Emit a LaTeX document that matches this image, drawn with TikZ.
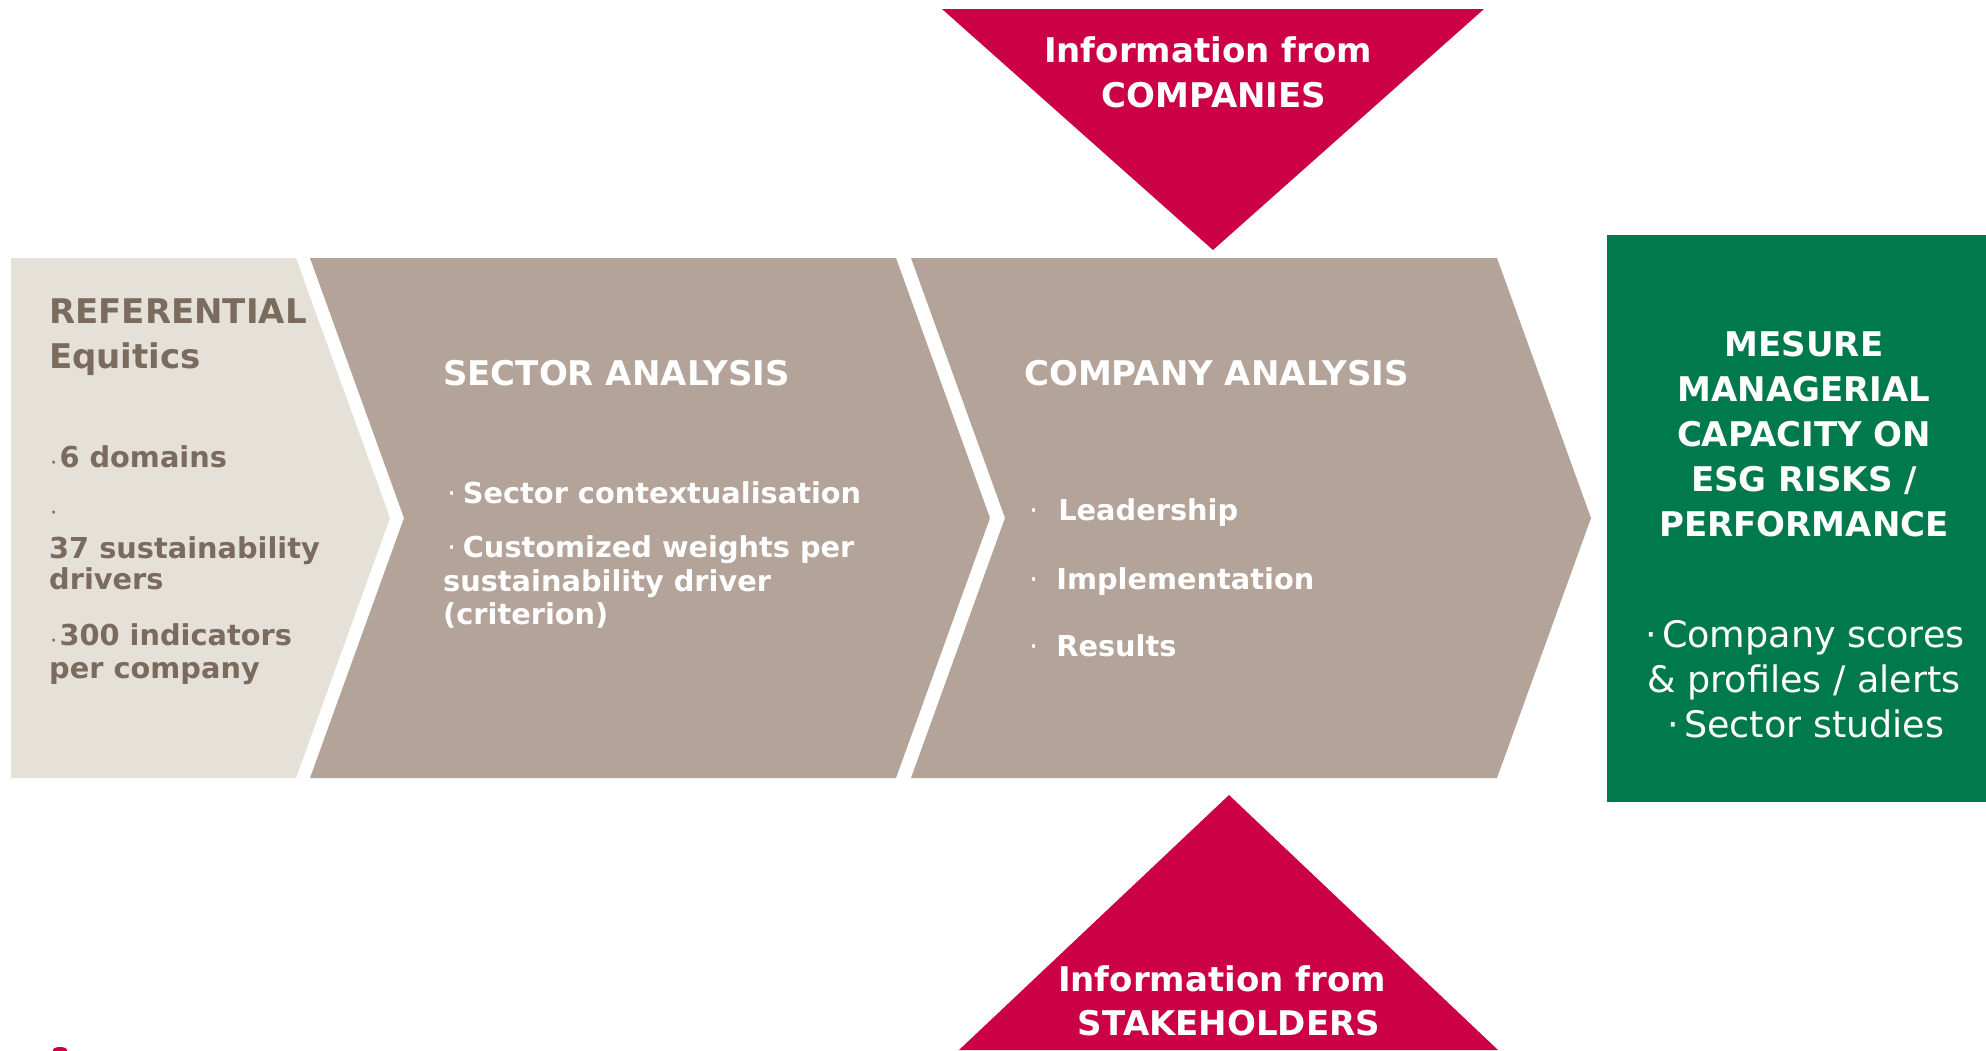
\documentclass[tikz,border=0pt]{standalone}
\usepackage{fontspec}
\setmainfont{DejaVu Sans}

\definecolor{refbg}{HTML}{E5E0D8}
\definecolor{reftext}{HTML}{7B6B5F}
\definecolor{taupe}{HTML}{B3A398}
\definecolor{infored}{HTML}{CC0044}
\definecolor{mesuregreen}{HTML}{007A4D}

\newcommand{\refdot}{{\fontsize{14}{14}\selectfont ·}\hspace{3pt}}
\newcommand{\bulletdot}{{\mdseries ·}}

\begin{document}
\begin{tikzpicture}[x=1pt, y=-1pt,
  head/.style={inner sep=0pt, anchor=base west, font=\fontsize{34}{45}\selectfont\bfseries},
  body/.style={inner sep=0pt, anchor=base west, font=\fontsize{28.8}{34}\selectfont\bfseries},
  outcome/.style={inner sep=0pt, anchor=base, text=white, font=\fontsize{36.5}{45}\selectfont}]

\useasboundingbox (0,0) rectangle (1986,1050);

%boxes
\fill[refbg] (11,258) -- (296,258) -- (390,518) -- (296,778) -- (11,778) -- cycle;
\foreach \l/\r in {310/896, 911/1497}
\fill[taupe] (\l,258) -- (\r,258) -- (\r+94,518) -- (\r,778) -- (\l,778) -- (\l+94,518) -- cycle;
\fill[mesuregreen] (1607,235) rectangle (1986,802);

%triangles
\fill[infored] (942,9) -- (1484,9) -- (1213,250) -- cycle;
\fill[infored] (1229,795) -- (1498,1050) -- (959,1050) -- cycle;
\fill[infored] (60,1050) ellipse [x radius=7, y radius=3];

%referential
\node[head, text=reftext] (ref1) at (49,323) {REFERENTIAL};
\node[head, text=reftext] (ref2) at (49,368) {Equitics};
\foreach \x/\y/\t [count=\i] in {51/467/{\refdot 6 domains}, 51/517/{\refdot}, 49/558/{37 sustainability},
  49/589/{drivers}, 51/645/{\refdot 300 indicators}, 49/678/{per company}}
\node[body, text=reftext] (refline\i) at (\x,\y) {\t};

%sector analysis
\node[head, text=white] (sector) at (443,385) {SECTOR ANALYSIS};
\foreach \x/\y/\t [count=\i] in {447/503/{\bulletdot\hspace{6.5pt}Sector contextualisation},
  447/557/{\bulletdot\hspace{6.5pt}Customized weights per}, 443/591/{sustainability driver}, 443/624/{(criterion)}}
\node[body, text=white] (sectorline\i) at (\x,\y) {\t};

%company analysis
\node[head, text=white] (company) at (1024,385) {COMPANY ANALYSIS};
\foreach \y/\s/\t [count=\i] in {520/20/Leadership, 589/18/Implementation, 656/18/Results}
\node[body, text=white] (companyline\i) at (1029,\y) {\bulletdot\hspace{\s pt}\t};

%information
\node[head, anchor=base, text=white] (infocomp1) at (1208,62) {Information from};
\node[head, anchor=base, text=white] (infocomp2) at (1214,107) {COMPANIES};
\node[head, anchor=base, text=white] (infostake1) at (1222,991) {Information from};
\node[head, anchor=base, text=white] (infostake2) at (1229,1035) {STAKEHOLDERS};

%mesure
\node[head, anchor=base, text=white] (mesure1) at (1804,356) {MESURE};
\node[head, anchor=base, text=white] (mesure2) at (1804,401) {MANAGERIAL};
\node[head, anchor=base, text=white] (mesure3) at (1804,446) {CAPACITY ON};
\node[head, anchor=base, text=white] (mesure4) at (1804,491) {ESG RISKS /};
\node[head, anchor=base, text=white] (mesure5) at (1804,536) {PERFORMANCE};
\node[outcome] (outcome1) at (1805,647) {·\hspace{5pt}Company scores};
\node[outcome] (outcome2) at (1804,692) {\& profiles / alerts};
\node[outcome] (outcome3) at (1806,737) {·\hspace{5pt}Sector studies};

\end{tikzpicture}
\end{document}
